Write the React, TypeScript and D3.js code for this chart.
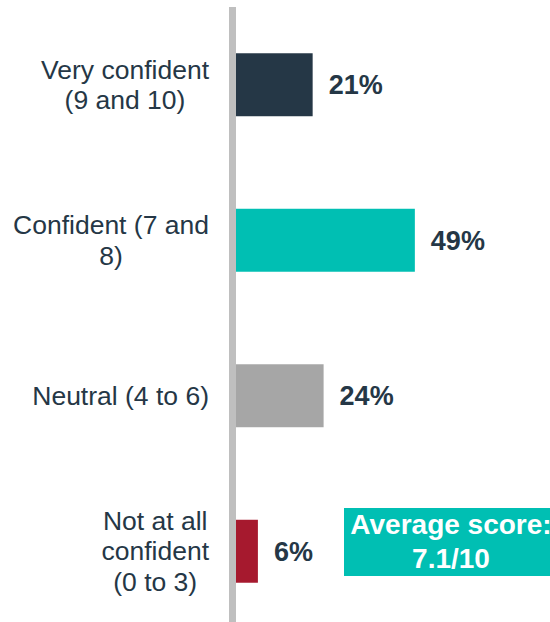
import * as d3 from "d3";

const WIDTH = 550;
const HEIGHT = 622;

// data
const categories = ["very", "confident", "neutral", "not"];
const labelLines = [
  ["Very confident", "(9 and 10)"],
  ["Confident (7 and", "8)"],
  ["Neutral (4 to 6)"],
  ["Not at all", "confident", "(0 to 3)"],
];
const shares = [21, 49, 24, 6];
const barColors = ["#253746", "#00BFB3", "#A6A6A6", "#A6192E"];
const averageLines = ["Average score:", "7.1/10"];

const TEXT_COLOR = "#253746";
const AXIS_X = 229;
const AXIS_W = 7;
const BAR_X0 = AXIS_X + AXIS_W;
const LABEL_FONT = 26.5;
const LABEL_LINE_H = 30.5;
const VALUE_FONT = 27;
const FONT_FAMILY = "'Liberation Sans', Arial, sans-serif";

// measure text for the right-aligned, centred label blocks
let ctx: CanvasRenderingContext2D | null = null;
const measure = (s: string) => {
  if (!ctx) ctx = document.createElement("canvas").getContext("2d");
  if (!ctx) return s.length * LABEL_FONT * 0.5;
  ctx.font = `${LABEL_FONT}px ${FONT_FAMILY}`;
  return ctx.measureText(s).width;
};

export default function App() {
  const yScale = d3
    .scaleBand()
    .domain(categories)
    .range([7, 629])
    .paddingInner(0.595)
    .paddingOuter(0.2975);

  const xScale = d3.scaleLinear().domain([0, 100]).range([0, 365]);

  const bars = categories.map((c, i) => {
    const y = yScale(c) ?? 0;
    return (
      <rect
        key={c}
        x={BAR_X0}
        y={y}
        width={xScale(shares[i])}
        height={yScale.bandwidth()}
        fill={barColors[i]}
      />
    );
  });

  const values = categories.map((c, i) => {
    const cy = (yScale(c) ?? 0) + yScale.bandwidth() / 2;
    return (
      <text
        key={c}
        x={BAR_X0 + xScale(shares[i]) + 16}
        y={cy + VALUE_FONT * 0.36}
        fontSize={VALUE_FONT}
        fontWeight="bold"
        fill={TEXT_COLOR}
      >
        {shares[i]}%
      </text>
    );
  });

  const labels = categories.map((c, i) => {
    const cy = (yScale(c) ?? 0) + yScale.bandwidth() / 2;
    const lines = labelLines[i];
    const maxW = d3.max(lines, (l) => measure(l)) ?? 0;
    const right = AXIS_X - 20;
    const cx = right - maxW / 2;
    return (
      <text key={c} fontSize={LABEL_FONT} fill={TEXT_COLOR} textAnchor="middle">
        {lines.map((l, j) => (
          <tspan
            key={j}
            x={cx}
            y={cy + (j - (lines.length - 1) / 2) * LABEL_LINE_H + 9}
          >
            {l}
          </tspan>
        ))}
      </text>
    );
  });

  return (
    <svg
      width={WIDTH}
      height={HEIGHT}
      style={{ position: "absolute", left: 0, top: 0, display: "block" }}
      fontFamily={FONT_FAMILY}
    >
      <rect width={WIDTH} height={HEIGHT} fill="white" />
      <rect x={AXIS_X} y={7} width={AXIS_W} height={HEIGHT - 7} fill="#BFBFBF" />
      {bars}
      {values}
      {labels}
      <g>
        <rect x={344} y={508} width={216} height={68} fill="#00BFB3" />
        <text fontSize={28} fontWeight="bold" fill="white" textAnchor="middle">
          {averageLines.map((l, j) => (
            <tspan key={j} x={451} y={534 + j * 34}>
              {l}
            </tspan>
          ))}
        </text>
      </g>
    </svg>
  );
}
